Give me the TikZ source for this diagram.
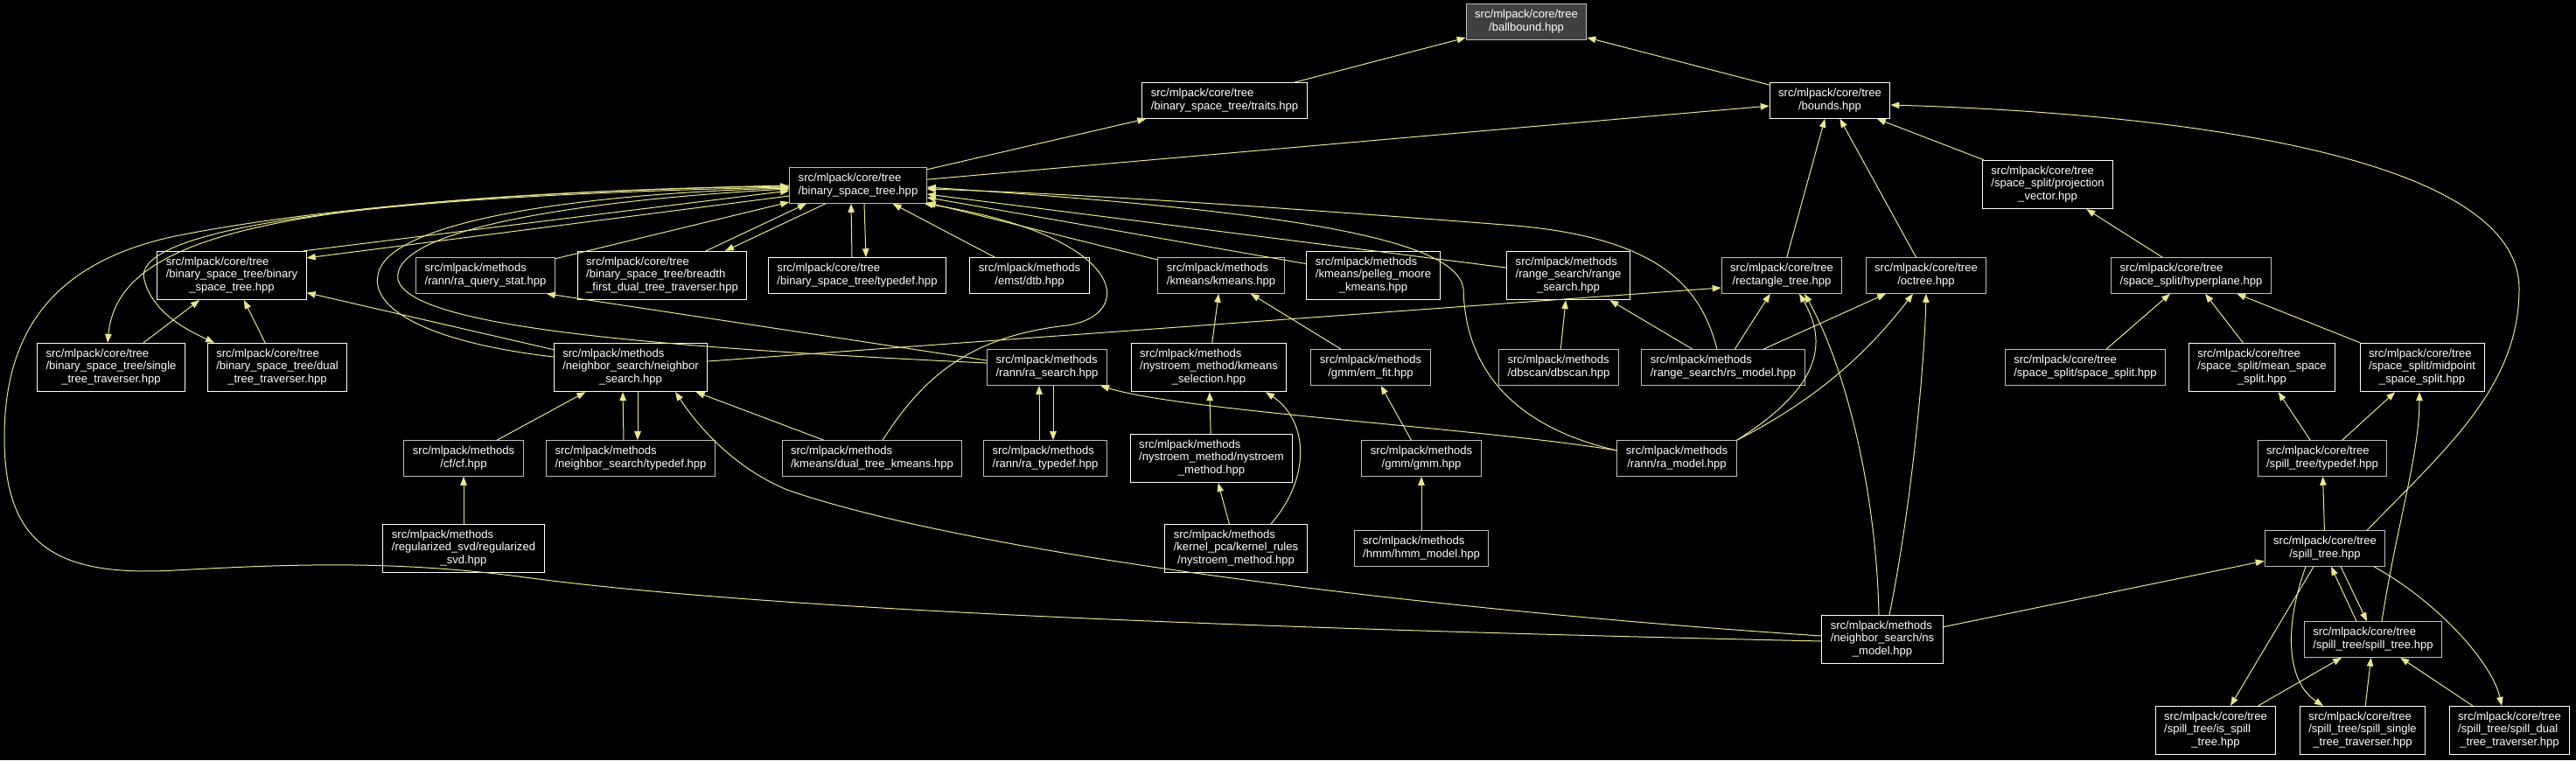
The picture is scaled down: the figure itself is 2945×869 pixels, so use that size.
\documentclass[tikz,border=0pt]{standalone}
\usepackage{fontspec}
\setmainfont{Liberation Sans}
\usetikzlibrary{arrows.meta}
\definecolor{boxgray}{RGB}{191,191,191}
\definecolor{rootfill}{RGB}{64,64,64}
\definecolor{inclcol}{RGB}{232,232,140}
\newcommand{\boxlab}[2]{\begin{tabular}{@{}l@{}}#1\\\multicolumn{1}{@{}c@{}}{#2}\end{tabular}}
\begin{document}
\begin{tikzpicture}[x=0.75bp,y=-0.75bp,
  filebox/.style={draw=boxgray,fill=black,text=white,line width=0.75bp,inner xsep=7.5bp,inner ysep=4.2bp,font=\fontsize{9.8bp}{11bp}\selectfont},
  filewbox/.style={filebox,draw=white},
  rootbox/.style={filebox,fill=rootfill},
  incl/.style={draw=inclcol,line width=0.75bp,-{Triangle[length=7.5bp,width=5.6bp]}}]
\useasboundingbox (0,0) rectangle (2945,869);
\fill[black] (0,0) rectangle (2945,869);

\node[rootbox] (ballbound) at (1745,25) {\boxlab{src/mlpack/core/tree}{/ballbound.hpp}};

\node[filewbox] (traits) at (1400,115) {\boxlab{src/mlpack/core/tree}{/binary\_space\_tree/traits.hpp}};
\node[filewbox] (bounds) at (2092,115) {\boxlab{src/mlpack/core/tree}{/bounds.hpp}};

\node[filebox] (bst) at (981,212) {\boxlab{src/mlpack/core/tree}{/binary\_space\_tree.hpp}};
\node[filewbox] (projection) at (2341,211) {\boxlab{src/mlpack/core/tree\\/space\_split/projection}{\_vector.hpp}};

\node[filewbox] (bstbst) at (265,315) {\boxlab{src/mlpack/core/tree\\/binary\_space\_tree/binary}{\_space\_tree.hpp}};
\node[filebox] (rqs) at (555,315) {\boxlab{src/mlpack/methods}{/rann/ra\_query\_stat.hpp}};
\node[filewbox] (breadth) at (757,315) {\boxlab{src/mlpack/core/tree\\/binary\_space\_tree/breadth}{\_first\_dual\_tree\_traverser.hpp}};
\node[filewbox] (bsttd) at (980,315) {\boxlab{src/mlpack/core/tree}{/binary\_space\_tree/typedef.hpp}};
\node[filewbox] (dtb) at (1177,315) {\boxlab{src/mlpack/methods}{/emst/dtb.hpp}};
\node[filebox] (kmeans) at (1396,315) {\boxlab{src/mlpack/methods}{/kmeans/kmeans.hpp}};
\node[filewbox] (pelleg) at (1570,315) {\boxlab{src/mlpack/methods\\/kmeans/pelleg\_moore}{\_kmeans.hpp}};
\node[filewbox] (rangesearch) at (1793,315) {\boxlab{src/mlpack/methods\\/range\_search/range}{\_search.hpp}};
\node[filebox] (rect) at (2037,315) {\boxlab{src/mlpack/core/tree}{/rectangle\_tree.hpp}};
\node[filebox] (octree) at (2202,315) {\boxlab{src/mlpack/core/tree}{/octree.hpp}};
\node[filebox] (hyperplane) at (2505,315) {\boxlab{src/mlpack/core/tree}{/space\_split/hyperplane.hpp}};

\node[filewbox] (single) at (127,420) {\boxlab{src/mlpack/core/tree\\/binary\_space\_tree/single}{\_tree\_traverser.hpp}};
\node[filewbox] (dual) at (317,420) {\boxlab{src/mlpack/core/tree\\/binary\_space\_tree/dual}{\_tree\_traverser.hpp}};
\node[filewbox] (ns) at (721,420) {\boxlab{src/mlpack/methods\\/neighbor\_search/neighbor}{\_search.hpp}};
\node[filebox] (rasearch) at (1197,420) {\boxlab{src/mlpack/methods}{/rann/ra\_search.hpp}};
\node[filewbox] (kmsel) at (1382,420) {\boxlab{src/mlpack/methods\\/nystroem\_method/kmeans}{\_selection.hpp}};
\node[filebox] (emfit) at (1567,420) {\boxlab{src/mlpack/methods}{/gmm/em\_fit.hpp}};
\node[filebox] (dbscan) at (1782,420) {\boxlab{src/mlpack/methods}{/dbscan/dbscan.hpp}};
\node[filebox] (rsmodel) at (1970,420) {\boxlab{src/mlpack/methods}{/range\_search/rs\_model.hpp}};
\node[filebox] (spacesplit) at (2384,420) {\boxlab{src/mlpack/core/tree}{/space\_split/space\_split.hpp}};
\node[filewbox] (meansplit) at (2586,420) {\boxlab{src/mlpack/core/tree\\/space\_split/mean\_space}{\_split.hpp}};
\node[filewbox] (midsplit) at (2769,420) {\boxlab{src/mlpack/core/tree\\/space\_split/midpoint}{\_space\_split.hpp}};

\node[filebox] (cf) at (530,524) {\boxlab{src/mlpack/methods}{/cf/cf.hpp}};
\node[filebox] (nstd) at (721,524) {\boxlab{src/mlpack/methods}{/neighbor\_search/typedef.hpp}};
\node[filebox] (dtk) at (997,524) {\boxlab{src/mlpack/methods}{/kmeans/dual\_tree\_kmeans.hpp}};
\node[filebox] (ratd) at (1195,524) {\boxlab{src/mlpack/methods}{/rann/ra\_typedef.hpp}};
\node[filewbox] (nystroem) at (1385,524) {\boxlab{src/mlpack/methods\\/nystroem\_method/nystroem}{\_method.hpp}};
\node[filebox] (gmm) at (1625,524) {\boxlab{src/mlpack/methods}{/gmm/gmm.hpp}};
\node[filebox] (ramodel) at (1917,524) {\boxlab{src/mlpack/methods}{/rann/ra\_model.hpp}};
\node[filebox] (spilltd) at (2655,524) {\boxlab{src/mlpack/core/tree}{/spill\_tree/typedef.hpp}};

\node[filewbox] (regsvd) at (530,627) {\boxlab{src/mlpack/methods\\/regularized\_svd/regularized}{\_svd.hpp}};
\node[filewbox] (kernelrules) at (1413,627) {\boxlab{src/mlpack/methods\\/kernel\_pca/kernel\_rules}{/nystroem\_method.hpp}};
\node[filebox] (hmm) at (1625,627) {\boxlab{src/mlpack/methods}{/hmm/hmm\_model.hpp}};
\node[filebox] (spilltree) at (2658,627) {\boxlab{src/mlpack/core/tree}{/spill\_tree.hpp}};

\node[filewbox] (nsmodel) at (2152,731) {\boxlab{src/mlpack/methods\\/neighbor\_search/ns}{\_model.hpp}};
\node[filebox] (sst) at (2713,731) {\boxlab{src/mlpack/core/tree}{/spill\_tree/spill\_tree.hpp}};

\node[filewbox] (isspill) at (2533,835) {\boxlab{src/mlpack/core/tree\\/spill\_tree/is\_spill}{\_tree.hpp}};
\node[filewbox] (spillsingle) at (2701,835) {\boxlab{src/mlpack/core/tree\\/spill\_tree/spill\_single}{\_tree\_traverser.hpp}};
\node[filewbox] (spilldual) at (2869,835) {\boxlab{src/mlpack/core/tree\\/spill\_tree/spill\_dual}{\_tree\_traverser.hpp}};

\draw[incl] (traits) -- (ballbound);
\draw[incl] (bounds) -- (ballbound);
\draw[incl] (bst) -- (traits);
\draw[incl] (bst) -- (bounds);
\draw[incl] ([shift={(-4,0)}]bstbst.north east) -- ([shift={(0,6)}]bst.west);
\draw[incl] ([shift={(0,12)}]bst.west) -- ([shift={(0,8)}]bstbst.north east);
\draw[incl] (bst.west) .. controls (330,225) and (135,265) .. ([shift={(-4,0)}]single.north);
\draw[incl] ([shift={(0,2)}]bst.west) .. controls (350,225) and (150,270) .. (165,320) .. controls (175,360) and (220,380) .. ([shift={(-72,0)}]dual.north);
\draw[incl] (single) -- (bstbst);
\draw[incl] (dual) -- (bstbst);
\draw[incl] (ns) -- (bstbst);
\draw[incl] ([shift={(0,-12)}]ns.west) .. controls (480,390) and (425,350) .. (432,315) .. controls (440,255) and (650,222) .. ([shift={(0,3)}]bst.west);
\draw[incl] ([shift={(0,-5)}]rasearch.west) .. controls (700,395) and (470,370) .. (455,320) .. controls (445,260) and (680,228) .. ([shift={(0,4)}]bst.west);
\draw[incl] ([shift={(0,2)}]nsmodel.west) .. controls (1500,720) and (900,700) .. (600,660) .. controls (450,640) and (330,645) .. (200,652) .. controls (60,660) and (5,620) .. (5,500) .. controls (5,380) and (60,300) .. (200,270) .. controls (400,230) and (700,215) .. ([shift={(0,1)}]bst.west);
\draw[incl] (rqs) -- (bst);
\draw[incl] ([shift={(0,-8)}]rasearch.west) -- ([shift={(-10,0)}]rqs.south east);
\draw[incl] ([shift={(50,0)}]breadth.north) -- ([shift={(-59,0)}]bst.south);
\draw[incl] ([shift={(-37,0)}]bst.south) -- ([shift={(72,0)}]breadth.north);
\draw[incl] ([shift={(-6,0)}]bsttd.north) -- ([shift={(-8,0)}]bst.south);
\draw[incl] ([shift={(7,0)}]bst.south) -- ([shift={(10,0)}]bsttd.north);
\draw[incl] (dtb) -- (bst);
\draw[incl] (kmeans) -- (bst);
\draw[incl] (pelleg) -- (bst);
\draw[incl] (rangesearch) -- (bst);
\draw[incl] ([shift={(-7,0)}]rsmodel.north) .. controls (1945,330) and (1900,270) .. (1720,257) .. controls (1500,240) and (1250,222) .. ([shift={(0,4)}]bst.east);
\draw[incl] ([shift={(0,-9)}]ramodel.west) .. controls (1740,490) and (1675,430) .. (1673,330) .. controls (1665,270) and (1450,240) .. ([shift={(0,2)}]bst.east);
\draw[incl] ([shift={(12,0)}]dtk.north) .. controls (1050,440) and (1100,385) .. (1220,372) .. controls (1300,360) and (1290,270) .. ([shift={(-3,0)}]bst.south east);
\draw[incl] ([shift={(0,-9)}]ramodel.west) .. controls (1700,490) and (1350,470) .. ([shift={(-8,0)}]rasearch.south east);
\draw[incl] (rsmodel) -- (rangesearch);
\draw[incl] (dbscan) -- (rangesearch);
\draw[incl] (rsmodel) -- (rect);
\draw[incl] (rsmodel) -- (octree);
\draw[incl] (ramodel.north east) .. controls (2070,450) and (2095,400) .. ([shift={(20,0)}]rect.south);
\draw[incl] (ramodel.north east) .. controls (2070,460) and (2130,410) .. ([shift={(-15,0)}]octree.south);
\draw[incl] ([shift={(0,-7)}]ns.east) -- ([shift={(0,14)}]rect.west);
\draw[incl] ([shift={(-4,0)}]nsmodel.north) .. controls (2145,560) and (2110,420) .. ([shift={(26,0)}]rect.south);
\draw[incl] ([shift={(8,0)}]nsmodel.north) .. controls (2185,580) and (2200,420) .. (octree.south);
\draw[incl] ([shift={(0,-4)}]nsmodel.west) .. controls (1600,695) and (1100,630) .. (900,560) .. controls (840,535) and (800,490) .. ([shift={(51,0)}]ns.south);
\draw[incl] (nsmodel) -- (spilltree);
\draw[incl] (rect) -- (bounds);
\draw[incl] (octree) -- (bounds);
\draw[incl] (projection) -- (bounds);
\draw[incl] ([shift={(48,0)}]spilltree.north) .. controls (2800,510) and (2880,440) .. (2880,330) .. controls (2880,180) and (2500,130) .. ([shift={(0,5)}]bounds.east);
\draw[incl] (hyperplane) -- (projection);
\draw[incl] (spacesplit) -- (hyperplane);
\draw[incl] (meansplit) -- (hyperplane);
\draw[incl] (midsplit) -- (hyperplane);
\draw[incl] (spilltd) -- (meansplit);
\draw[incl] (spilltd) -- (midsplit);
\draw[incl] (spilltree) -- (spilltd);
\draw[incl] ([shift={(10,0)}]sst.north) .. controls (2740,600) and (2766,520) .. ([shift={(-3,0)}]midsplit.south);
\draw[incl] ([shift={(-19,0)}]sst.north) -- ([shift={(7,0)}]spilltree.south);
\draw[incl] ([shift={(18,0)}]spilltree.south) -- ([shift={(-7,0)}]sst.north);
\draw[incl] ([shift={(-13,0)}]spilltree.south) -- ([shift={(17,0)}]isspill.north);
\draw[incl] ([shift={(-22,0)}]spilltree.south) .. controls (2610,720) and (2615,780) .. ([shift={(-45,0)}]spillsingle.north);
\draw[incl] ([shift={(56,0)}]spilltree.south) .. controls (2790,690) and (2850,760) .. ([shift={(-9,0)}]spilldual.north);
\draw[incl] (isspill) -- (sst);
\draw[incl] (spillsingle) -- (sst);
\draw[incl] (spilldual) -- (sst);
\draw[incl] (kmsel) -- (kmeans);
\draw[incl] (emfit) -- (kmeans);
\draw[incl] (gmm) -- (emfit);
\draw[incl] (hmm) -- (gmm);
\draw[incl] (nystroem) -- (kmsel);
\draw[incl] (kernelrules) -- (nystroem);
\draw[incl] ([shift={(40,0)}]kernelrules.north) .. controls (1500,545) and (1495,480) .. ([shift={(65,0)}]kmsel.south);
\draw[incl] ([shift={(-7,0)}]ratd.north) -- ([shift={(-9,0)}]rasearch.south);
\draw[incl] ([shift={(7,0)}]rasearch.south) -- ([shift={(9,0)}]ratd.north);
\draw[incl] ([shift={(-8,0)}]nstd.north) -- ([shift={(-9,0)}]ns.south);
\draw[incl] ([shift={(8,0)}]ns.south) -- ([shift={(8,0)}]nstd.north);
\draw[incl] (cf) -- (ns);
\draw[incl] (regsvd) -- (cf);
\draw[incl] (dtk) -- (ns);
\end{tikzpicture}
\end{document}
